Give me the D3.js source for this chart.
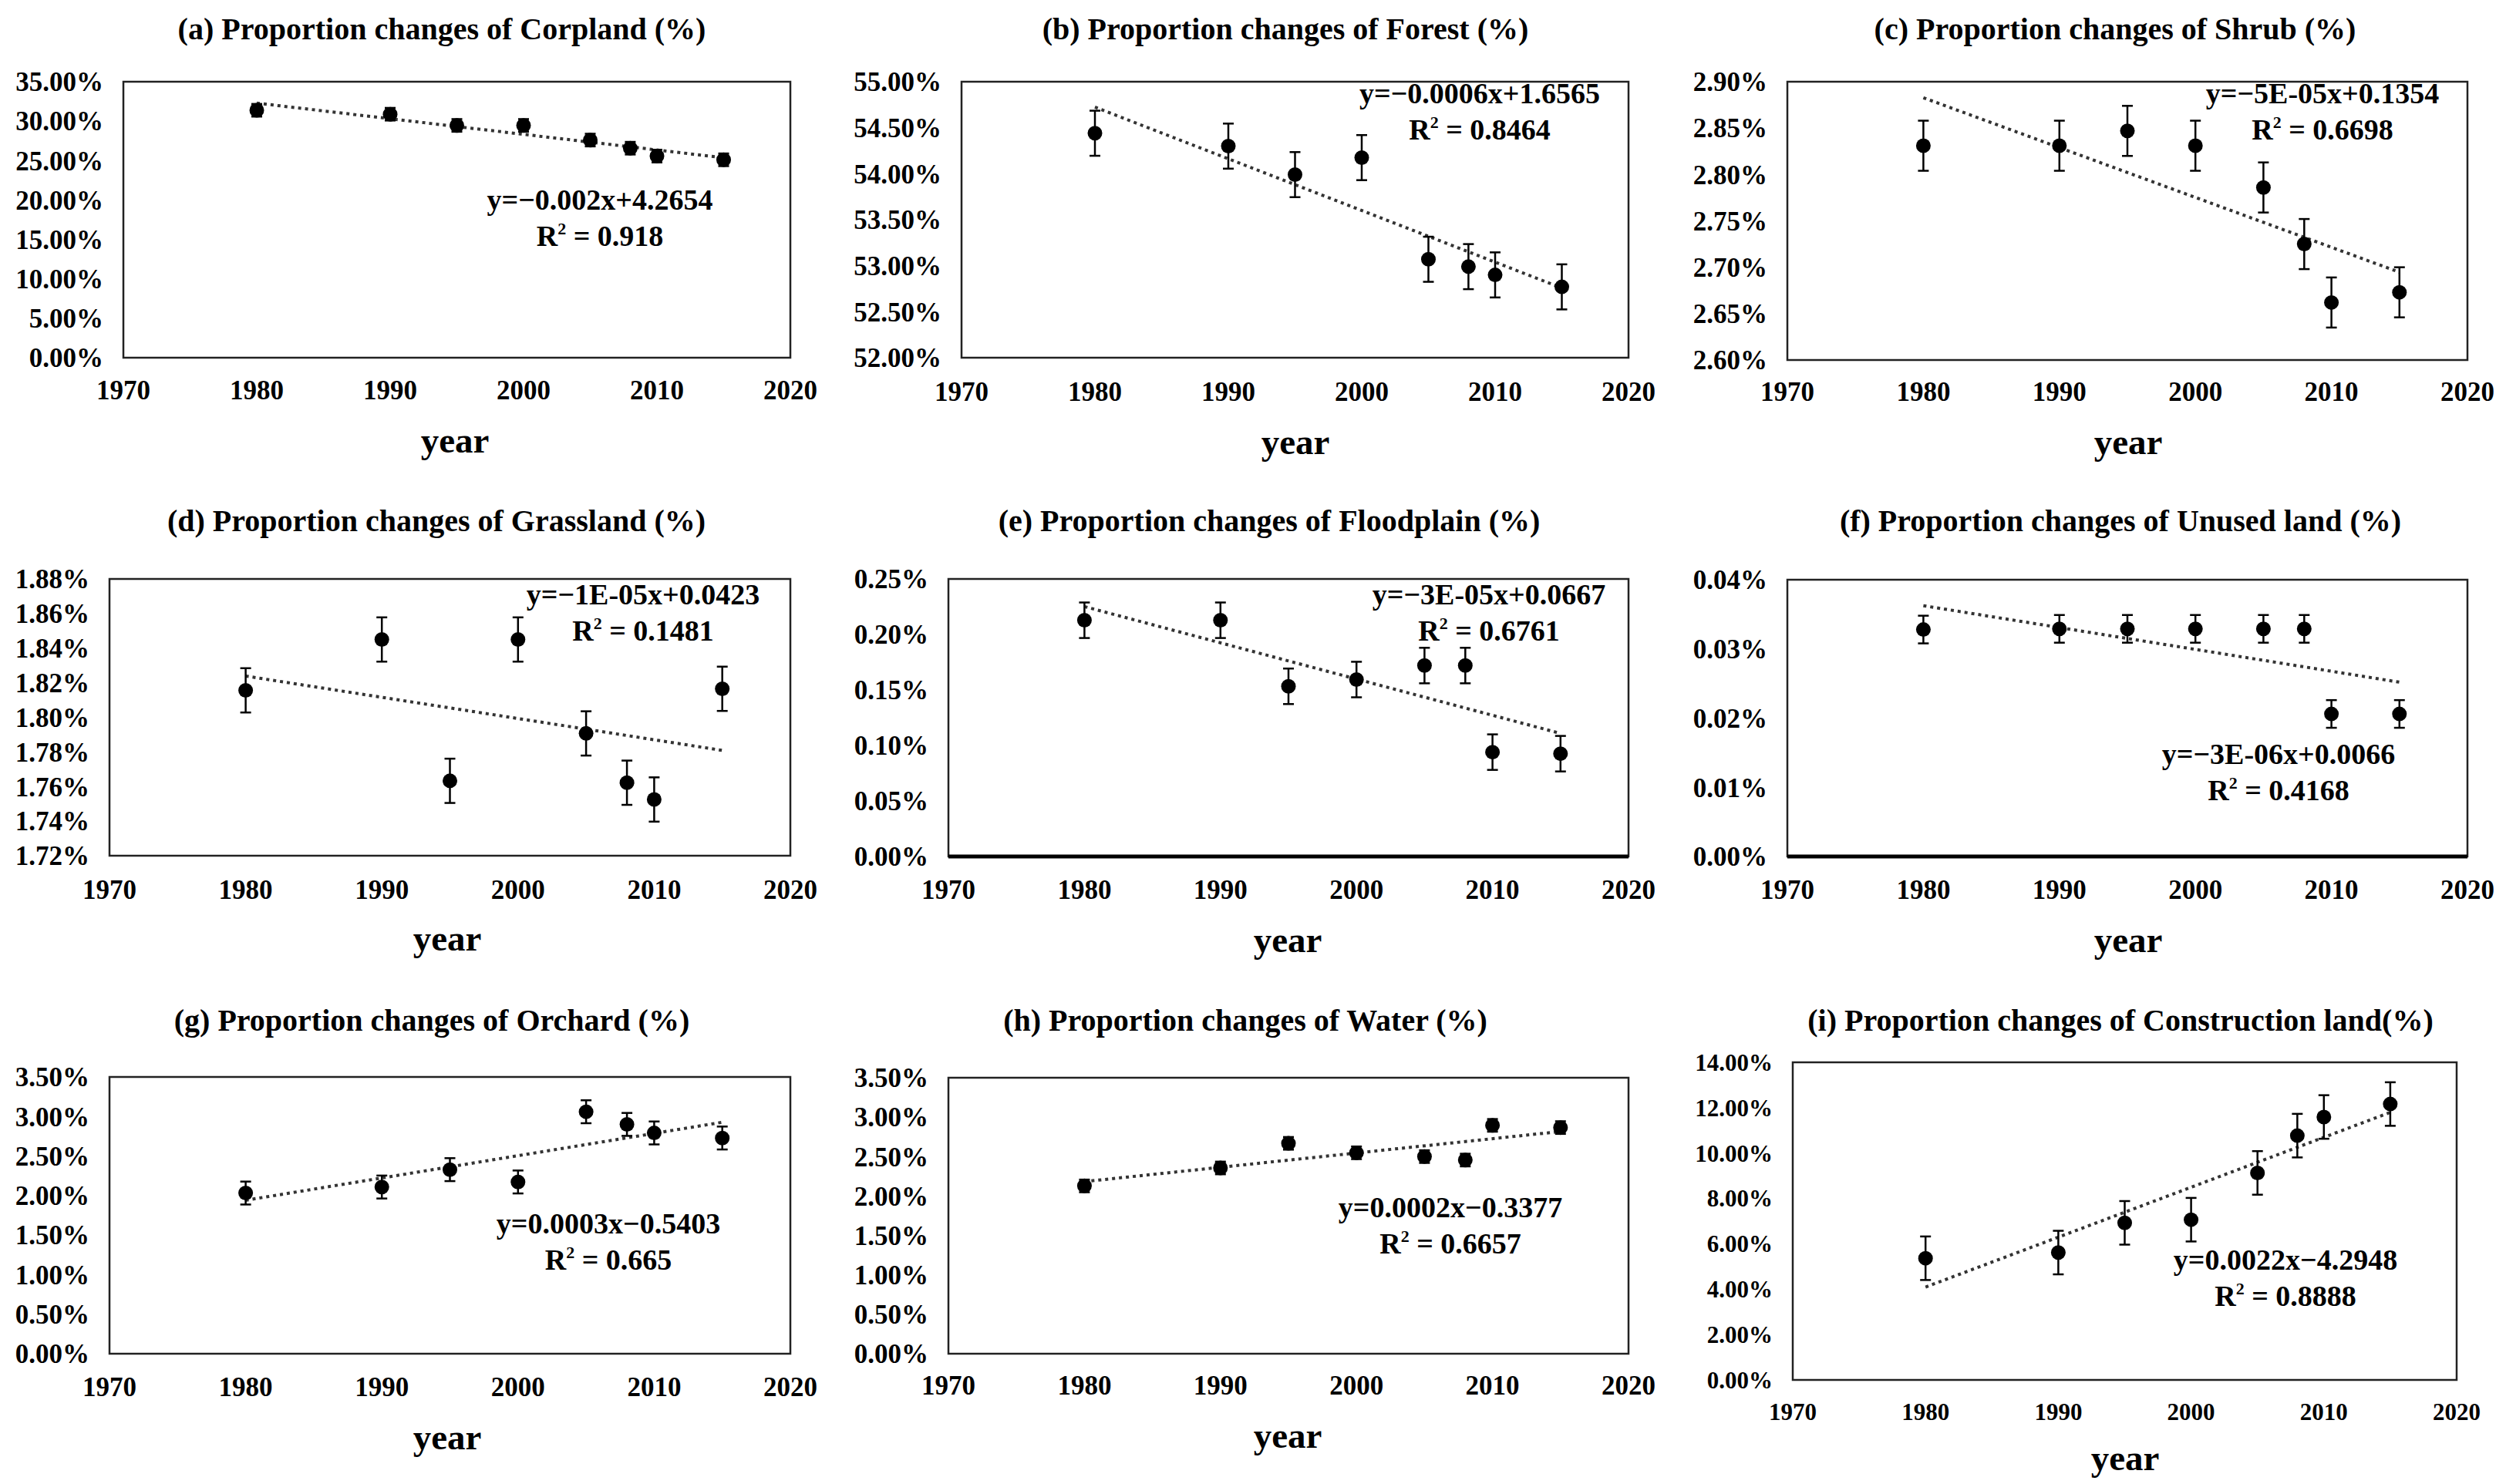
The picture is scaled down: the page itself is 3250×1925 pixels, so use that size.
<!DOCTYPE html>
<html lang="en">
<head>
<meta charset="utf-8">
<style>
  body { margin: 0; background: #fff; }
  svg { display: block; }
  text { font-family: "Liberation Serif", "Times New Roman", serif; font-weight: bold; fill: #000; }
</style>
</head>
<body>
<script src="https://cdn.jsdelivr.net/npm/d3@7"></script>
<script>

// data (percent of total area)
var years = [1980, 1990, 1995, 2000, 2005, 2008, 2010, 2015];
var corpland     = [31.38, 30.88, 29.46, 29.46, 27.60, 26.57, 25.57, 25.10];
var forest       = [54.44, 54.30, 53.99, 54.175, 53.07, 52.99, 52.90, 52.77];
var shrub        = [2.831, 2.831, 2.847, 2.831, 2.786, 2.725, 2.662, 2.673];
var grassland    = [1.8156, 1.845, 1.7633, 1.845, 1.7907, 1.7622, 1.7525, 1.8165];
var floodplain   = [0.2128, 0.2128, 0.1533, 0.1594, 0.172, 0.172, 0.094, 0.0926];
var unused       = [0.0328, 0.0329, 0.0329, 0.0329, 0.0329, 0.0329, 0.0206, 0.0206];
var orchard      = [2.032, 2.108, 2.328, 2.172, 3.06, 2.90, 2.792, 2.728];
var water        = [2.128, 2.356, 2.668, 2.548, 2.50, 2.456, 2.896, 2.868];
var construction = [5.364, 5.614, 6.924, 7.063, 9.125, 10.768, 11.59, 12.161];

var series = [corpland, forest, shrub, grassland, floodplain, unused, orchard, water, construction];
var errors = [0.8, 0.245, 0.027, 0.0128, 0.016, 0.002, 0.145, 0.08, 0.96];

var titles = [
  "(a) Proportion changes of Corpland (%)",
  "(b) Proportion changes of Forest (%)",
  "(c) Proportion changes of Shrub (%)",
  "(d) Proportion changes of Grassland (%)",
  "(e) Proportion changes of Floodplain (%)",
  "(f) Proportion changes of Unused land (%)",
  "(g) Proportion changes of Orchard (%)",
  "(h) Proportion changes of Water (%)",
  "(i) Proportion changes of Construction land(%)"
];
var equations = [
  "y=\u22120.002x+4.2654", "y=\u22120.0006x+1.6565", "y=\u22125E-05x+0.1354",
  "y=\u22121E-05x+0.0423", "y=\u22123E-05x+0.0667", "y=\u22123E-06x+0.0066",
  "y=0.0003x\u22120.5403", "y=0.0002x\u22120.3377", "y=0.0022x\u22124.2948"
];
var rsquared = ["0.918", "0.8464", "0.6698", "0.1481", "0.6761", "0.4168", "0.665", "0.6657", "0.8888"];

var yDomains = [[0, 35], [52, 55], [2.6, 2.9], [1.72, 1.88], [0, 0.25], [0, 0.04], [0, 3.5], [0, 3.5], [0, 14]];
var yStep = [5, 0.5, 0.05, 0.02, 0.05, 0.01, 0.5, 0.5, 2];
var xTicks = [1970, 1980, 1990, 2000, 2010, 2020];
var axisLabel = "year";

// panel placement
var layout = [
  {L: 160,  R: 1025, T: 106, B: 464,  tx: 573,  ty: 51,   ex: 778,  ey: 272,  lx: 590,  ly: 587,  tk: 518},
  {L: 1247, R: 2112, T: 106, B: 464,  tx: 1667, ty: 51,   ex: 1919, ey: 134,  lx: 1680, ly: 589,  tk: 520},
  {L: 2318, R: 3200, T: 106, B: 467,  tx: 2743, ty: 51,   ex: 3012, ey: 134,  lx: 2760, ly: 589,  tk: 520},
  {L: 142,  R: 1025, T: 751, B: 1110, tx: 566,  ty: 689,  ex: 834,  ey: 784,  lx: 580,  ly: 1233, tk: 1166},
  {L: 1230, R: 2112, T: 751, B: 1111, tx: 1646, ty: 689,  ex: 1931, ey: 784,  lx: 1670, ly: 1235, tk: 1166, thick: true},
  {L: 2318, R: 3200, T: 752, B: 1111, tx: 2750, ty: 689,  ex: 2955, ey: 991,  lx: 2760, ly: 1235, tk: 1166, thick: true},
  {L: 142,  R: 1025, T: 1397, B: 1756, tx: 560, ty: 1337, ex: 789,  ey: 1600, lx: 580,  ly: 1880, tk: 1811},
  {L: 1230, R: 2112, T: 1398, B: 1756, tx: 1615, ty: 1337, ex: 1881, ey: 1579, lx: 1670, ly: 1878, tk: 1809},
  {L: 2325, R: 3186, T: 1378, B: 1790, tx: 2750, ty: 1337, ex: 2964, ey: 1647, lx: 2756, ly: 1907, tk: 1842, fs: 31}
];

var svg = d3.select("body").append("svg")
  .attr("width", 3250)
  .attr("height", 1925);

var fmt = d3.format(".2f");

function fit(xs, ys) {
  var mx = d3.mean(xs), my = d3.mean(ys), sxy = 0, sxx = 0;
  xs.forEach(function(x, i) { sxy += (x - mx) * (ys[i] - my); sxx += (x - mx) * (x - mx); });
  var b = sxy / sxx;
  return {b: b, a: my - b * mx};
}

series.forEach(function(vals, k) {
  var p = layout[k];
  var fs = p.fs || 35;
  var g = svg.append("g");

  var x = d3.scaleLinear().domain([1970, 2020]).range([p.L, p.R]);
  var y = d3.scaleLinear().domain(yDomains[k]).range([p.B, p.T]);

  // title
  g.append("text")
    .attr("x", p.tx).attr("y", p.ty)
    .attr("text-anchor", "middle")
    .attr("font-size", 40)
    .text(titles[k]);

  // plot box
  g.append("rect")
    .attr("x", p.L).attr("y", p.T)
    .attr("width", p.R - p.L).attr("height", p.B - p.T)
    .attr("fill", "none")
    .attr("stroke", "#222")
    .attr("stroke-width", 2.5);
  if (p.thick) {
    g.append("line")
      .attr("x1", p.L).attr("x2", p.R)
      .attr("y1", p.B).attr("y2", p.B)
      .attr("stroke", "#000")
      .attr("stroke-width", 5);
  }

  // y tick labels
  var yt = d3.range(yDomains[k][0], yDomains[k][1] + yStep[k] / 2, yStep[k]);
  g.selectAll(".yt").data(yt).enter().append("text")
    .attr("x", p.L - 26)
    .attr("y", function(d) { return y(d); })
    .attr("dy", "0.35em")
    .attr("text-anchor", "end")
    .attr("font-size", fs)
    .text(function(d) { return fmt(d) + "%"; });

  // x tick labels
  g.selectAll(".xt").data(xTicks).enter().append("text")
    .attr("x", function(d) { return x(d); })
    .attr("y", p.tk)
    .attr("text-anchor", "middle")
    .attr("font-size", fs)
    .text(function(d) { return d; });

  g.append("text")
    .attr("x", p.lx).attr("y", p.ly)
    .attr("text-anchor", "middle")
    .attr("font-size", 47)
    .text(axisLabel);

  // trend line (least squares)
  var f = fit(years, vals);
  var x0 = d3.min(years), x1 = d3.max(years);
  g.append("line")
    .attr("x1", x(x0)).attr("y1", y(f.a + f.b * x0))
    .attr("x2", x(x1)).attr("y2", y(f.a + f.b * x1))
    .attr("stroke", "#333")
    .attr("stroke-width", 4)
    .attr("stroke-dasharray", "4,5");

  // error bars
  var e = errors[k];
  var bars = g.selectAll(".eb").data(vals).enter().append("g");
  bars.append("line")
    .attr("x1", function(d, i) { return x(years[i]); })
    .attr("x2", function(d, i) { return x(years[i]); })
    .attr("y1", function(d) { return y(d - e); })
    .attr("y2", function(d) { return y(d + e); })
    .attr("stroke", "#000").attr("stroke-width", 2.5);
  [-1, 1].forEach(function(s) {
    bars.append("line")
      .attr("x1", function(d, i) { return x(years[i]) - 7; })
      .attr("x2", function(d, i) { return x(years[i]) + 7; })
      .attr("y1", function(d) { return y(d + s * e); })
      .attr("y2", function(d) { return y(d + s * e); })
      .attr("stroke", "#000").attr("stroke-width", 2.5);
  });

  // points
  g.selectAll(".pt").data(vals).enter().append("circle")
    .attr("cx", function(d, i) { return x(years[i]); })
    .attr("cy", function(d) { return y(d); })
    .attr("r", 9.5)
    .attr("fill", "#000");

  // equation + R2
  g.append("text")
    .attr("x", p.ex).attr("y", p.ey)
    .attr("text-anchor", "middle")
    .attr("font-size", 38)
    .text(equations[k]);
  var r2 = g.append("text")
    .attr("x", p.ex).attr("y", p.ey + 47)
    .attr("text-anchor", "middle")
    .attr("font-size", 38);
  r2.append("tspan").text("R");
  r2.append("tspan").attr("dy", -15).attr("font-size", 22).text("2");
  r2.append("tspan").attr("dy", 15).text(" = " + rsquared[k]);
});

</script>
</body>
</html>
